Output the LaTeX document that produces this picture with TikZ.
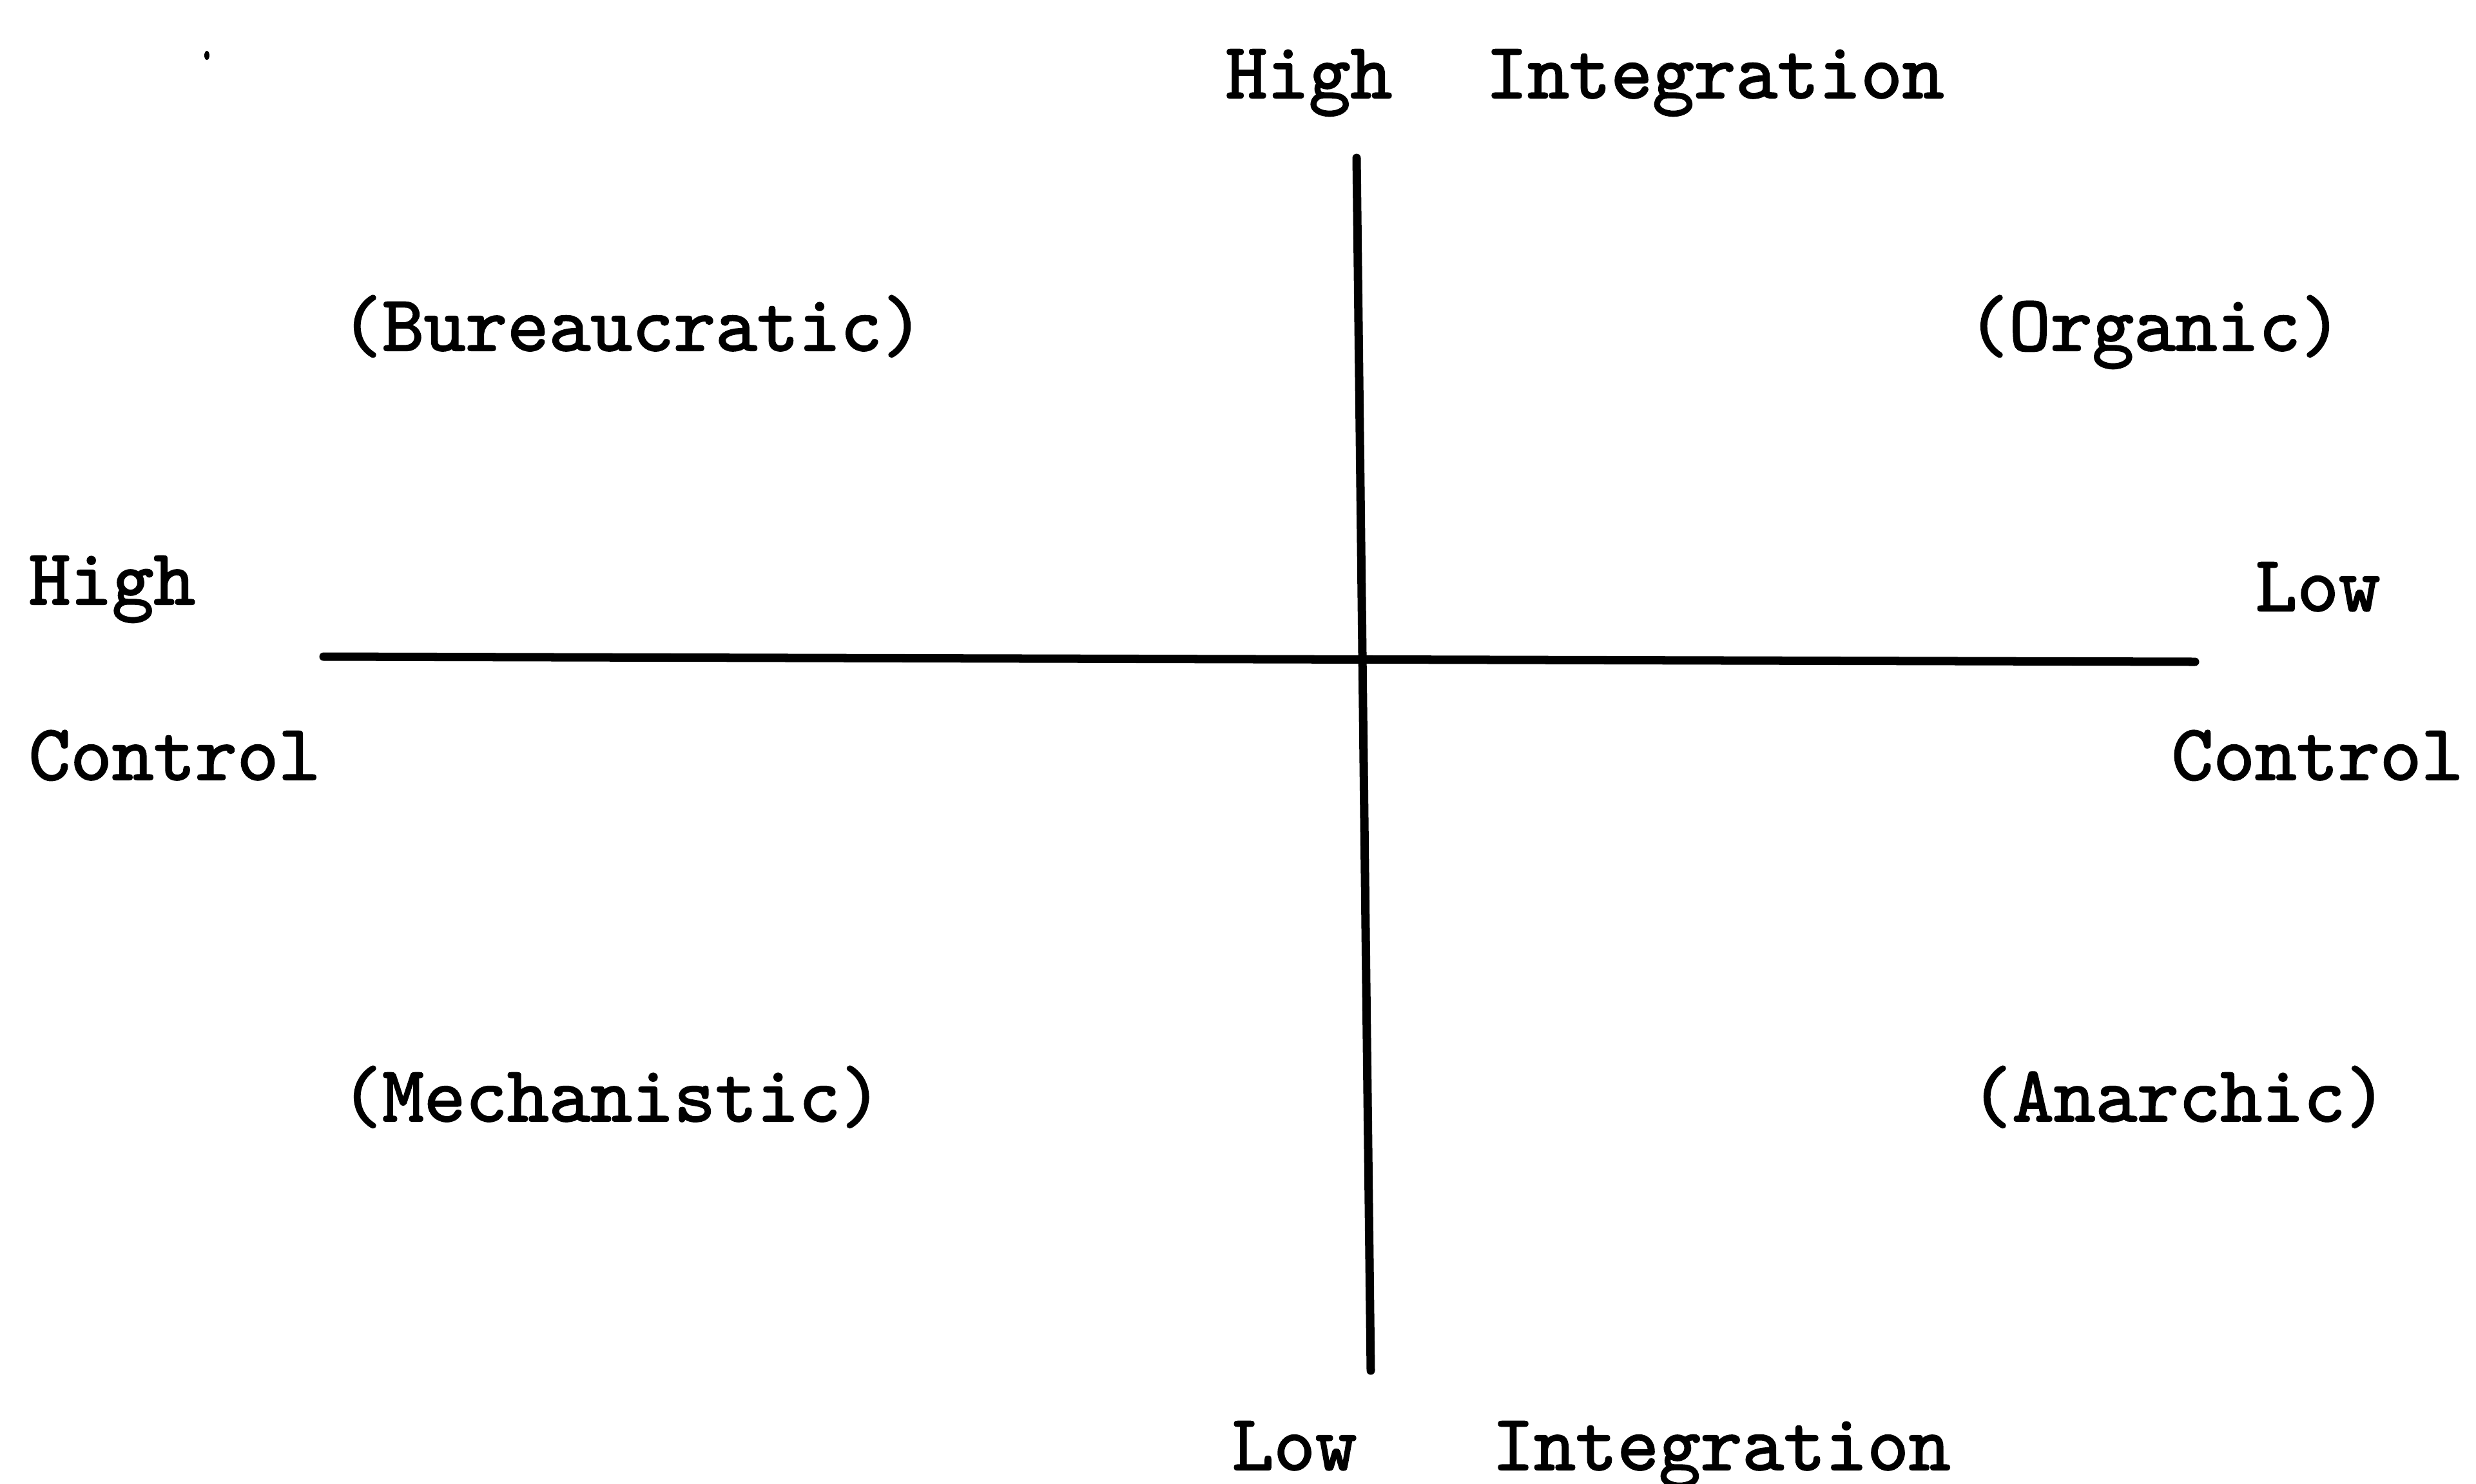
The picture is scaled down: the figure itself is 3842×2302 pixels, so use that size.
\documentclass[tikz,border=0pt]{standalone}
\usepackage{fontspec}
\newfontfamily\tw{lmmono10-regular.otf}[FakeBold=1.8]
\begin{document}
\begin{tikzpicture}[x=0.01cm,y=-0.01cm,
  lbl/.style={anchor=base west,inner sep=0pt,font=\tw\fontsize{35}{40}\selectfont},
  axisline/.style={line width=3.7pt,line cap=round}]
\useasboundingbox (0,0) rectangle (3842,2302);
% axes
\coordinate (vtop) at (2105,245);
\coordinate (vbot) at (2127,2127);
\coordinate (hleft) at (502,1019);
\coordinate (hright) at (3406,1027);
\draw[axisline] (vtop) -- (vbot);
\draw[axisline] (hleft) -- (hright);
% axis labels
\node[lbl] (hiA) at (1901,152) {High};
\node[lbl] (hiB) at (2305,152) {Integration};
\node[lbl] (loA) at (1911,2281) {Low};
\node[lbl] (loB) at (2315,2281) {Integration};
\node[lbl] (hcA) at (44,938) {High};
\node[lbl] (hcB) at (44,1210) {Control};
\node[lbl] (lcA) at (3499,948) {Low};
\node[lbl] (lcB) at (3369,1210) {Control};
% quadrants
\node[lbl] (bur) at (528,544) {(Bureaucratic)};
\node[lbl] (org) at (3052,544) {(Organic)};
\node[lbl] (mec) at (528,1740) {(Mechanistic)};
\node[lbl] (ana) at (3057,1740) {(Anarchic)};
% speck
\fill (321,86) ellipse (4 and 7);
\end{tikzpicture}
\end{document}
